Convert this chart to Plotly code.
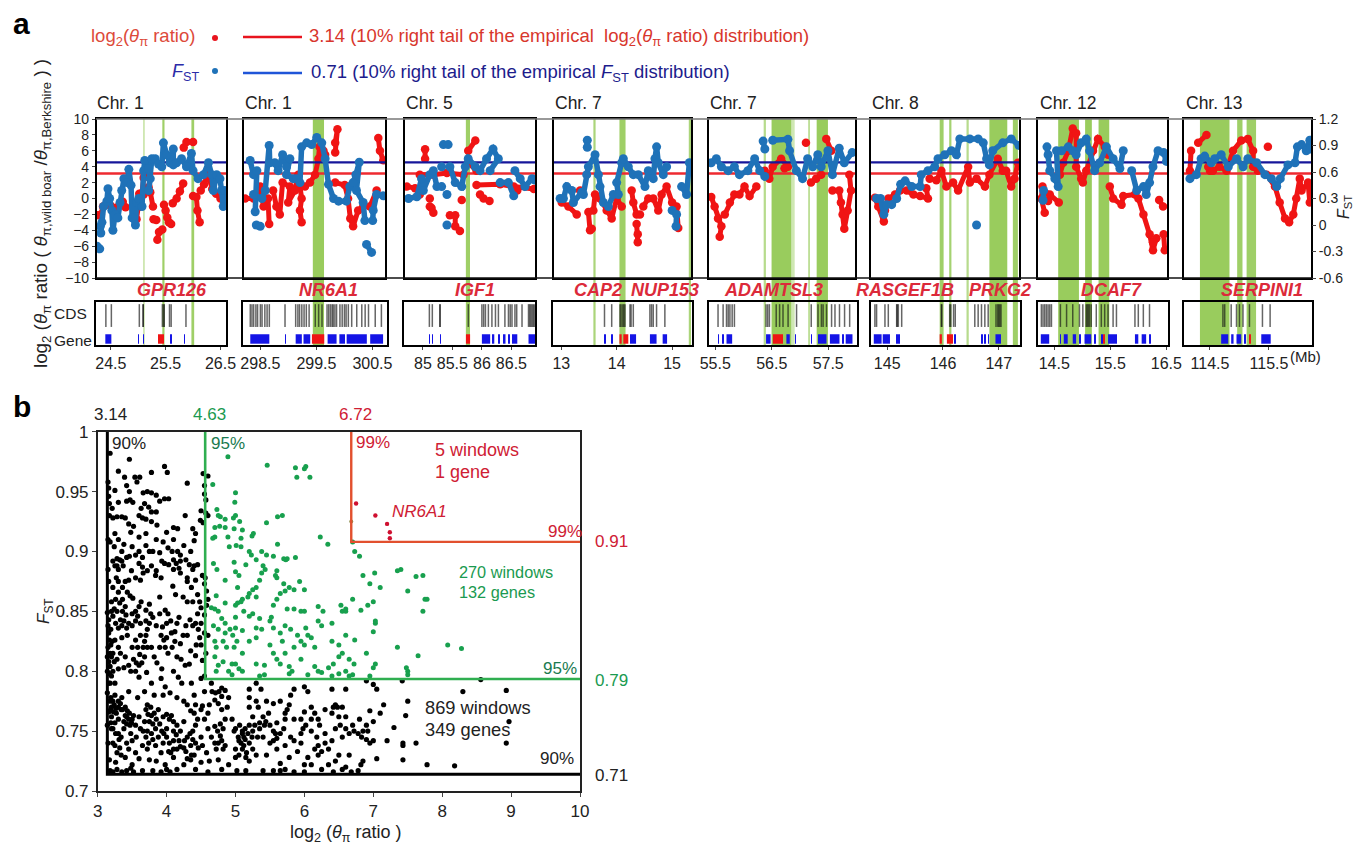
import plotly.graph_objects as go

FONT = "Liberation Sans"
W, H = 1360, 845
RED_THRESHOLD = 3.14
FST_THRESHOLD = 0.71
TOP_T, TOP_B = 119, 278
LOW_T, LOW_B = 302, 345

PANEL_PX = [(97, 226), (244, 385), (405, 535), (554, 691), (709, 855), (871, 1019), (1038, 1167), (1184, 1311)]
LOW_PX = [(96, 226), (243, 387), (404, 535), (553, 692), (709, 857), (871, 1020), (1038, 1168), (1184, 1312)]
RANGES = [(24.25, 26.6), (298.21, 300.73), (84.7, 86.9), (12.87, 15.34), (55.39, 57.98), (144.71, 147.36), (14.21, 16.51), (114.06, 116.21)]
LOW_RANGES = [(24.23, 26.6), (298.19, 300.76), (84.68, 86.9), (12.85, 15.36), (55.39, 58.01), (144.71, 147.38), (14.21, 16.53), (114.06, 116.23)]
TICKS = [[24.5, 25.5, 26.5], [298.5, 299.5, 300.5], [85, 85.5, 86, 86.5], [13, 14, 15], [55.5, 56.5, 57.5], [145, 146, 147], [14.5, 15.5, 16.5], [114.5, 115.5]]
CHR = ["Chr. 1", "Chr. 1", "Chr. 5", "Chr. 7", "Chr. 7", "Chr. 8", "Chr. 12", "Chr. 13"]
CHR_PX = [96, 244, 405, 554, 709, 871, 1039, 1185]
GENES = ["GPR126", "NR6A1", "IGF1", "CAP2", "NUP153", "ADAMTSL3", "RASGEF1B", "PRKG2", "DCAF7", "SERPINI1"]
GENES_PX = [172, 328, 475, 598, 665, 773, 905, 1000, 1111, 1262]

BANDS = [
    [(25.09, 25.12, .45), (25.44, 25.48, .8), (25.97, 26.02, .8)],
    [(299.44, 299.64, .85)],
    [(85.73, 85.8, .8)],
    [(13.58, 13.62, .7), (14.05, 14.16, .8), (15.30, 15.34, .7)],
    [(56.36, 56.40, .6), (56.5, 56.85, .85), (56.85, 56.91, .4), (57.15, 57.18, .6), (57.30, 57.50, .85)],
    [(145.94, 146.01, .8), (146.11, 146.15, .75), (146.42, 146.46, .6), (146.83, 147.15, .85), (147.25, 147.34, .8)],
    [(14.57, 14.94, .85), (15.05, 15.17, .85), (15.29, 15.48, .85)],
    [(114.33, 114.83, .85), (114.96, 115.05, .8), (115.12, 115.28, .8)],
]

CDS = [
    [24.41, 24.51, 25.02, 25.09, 25.09, 25.44, 25.47, 25.47, 25.57, 25.6, 25.87],
    [298.32, 298.35, 298.38, 298.42, 298.45, 298.5, 298.53, 298.58, 298.62, 298.66, 298.94, 299.13, 299.17, 299.2, 299.24, 299.28, 299.32, 299.37, 299.48, 299.54, 299.6, 299.69, 299.72, 299.75, 299.78, 299.8, 299.83, 299.86, 299.92, 299.96, 300.0, 300.03, 300.07, 300.13, 300.22, 300.31, 300.37, 300.43, 300.55, 300.66],
    [85.11, 85.16, 85.29, 85.29, 85.77, 86.0, 86.03, 86.06, 86.11, 86.17, 86.23, 86.28, 86.39, 86.45, 86.48, 86.51, 86.56, 86.59, 86.68, 86.79, 86.81, 86.83, 86.85, 86.87, 86.89],
    [13.78, 13.91, 14.06, 14.08, 14.11, 14.13, 14.15, 14.24, 14.26, 14.3, 14.6, 14.63, 14.66, 14.72, 14.87],
    [55.55, 55.64, 55.7, 55.73, 55.76, 55.8, 55.84, 56.4, 56.43, 56.46, 56.58, 56.64, 56.7, 56.79, 56.94, 57.2, 57.32, 57.38, 57.41, 57.47, 57.56, 57.62, 57.7, 57.79, 57.88],
    [144.78, 144.81, 144.96, 145.02, 145.17, 145.18, 145.2, 145.26, 145.97, 145.98, 146.12, 146.14, 146.19, 146.22, 146.57, 146.63, 146.69, 146.75, 146.81, 146.95, 146.98, 147.0, 147.02, 147.04],
    [14.27, 14.3, 14.33, 14.36, 14.39, 14.42, 14.45, 14.61, 14.72, 14.83, 14.95, 15.01, 15.07, 15.09, 15.11, 15.13, 15.16, 15.25, 15.34, 15.4, 15.46, 15.55, 15.61, 15.94, 16.0, 16.09, 16.2],
    [114.72, 114.75, 114.86, 114.95, 115.0, 115.06, 115.17, 115.39, 115.52],
]
GENE_BLOCKS = [
    [(24.40, 24.51), (25.0, 25.01), (25.09, 25.1), (25.84, 25.85), (25.58, 25.6)],
    [(298.32, 298.66), (298.94, 298.95), (299.13, 299.24), (299.27, 299.39), (299.70, 299.86), (299.91, 300.01), (300.04, 300.40), (300.46, 300.69)],
    [(85.11, 85.12), (85.16, 85.17), (85.29, 85.3), (86.0, 86.14), (86.18, 86.21), (86.28, 86.3), (86.37, 86.4), (86.45, 86.47), (86.51, 86.6), (86.79, 86.9)],
    [(13.78, 13.79), (13.91, 13.92), (14.24, 14.35), (14.6, 14.72), (14.83, 14.91)],
    [(55.55, 55.56), (55.63, 55.64), (55.7, 55.8), (56.40, 56.48), (56.76, 56.82), (56.92, 56.93), (57.2, 57.21), (57.32, 57.47), (57.53, 57.7), (57.75, 57.77), (57.81, 57.93)],
    [(144.76, 144.9), (144.92, 145.05), (145.17, 145.18), (145.21, 145.22), (146.21, 146.22), (146.69, 146.7), (146.75, 146.76), (146.81, 146.82), (146.94, 147.04)],
    [(14.26, 14.41), (14.61, 14.62), (14.67, 14.74), (14.83, 14.89), (14.95, 14.96), (15.04, 15.16), (15.22, 15.23), (15.34, 15.37), (15.46, 15.62), (15.94, 16.0), (16.06, 16.14), (16.2, 16.21)],
    [(114.69, 114.81), (114.86, 114.9), (114.95, 115.03), (115.09, 115.1), (115.37, 115.53)],
]
RED_BLOCKS = [
    [(25.36, 25.47)],
    [(299.42, 299.64)],
    [(85.73, 85.8)],
    [(14.05, 14.09), (14.12, 14.21)],
    [(56.52, 56.70)],
    [(145.94, 145.98), (146.07, 146.18)],
    [(15.38, 15.4)],
    [(115.17, 115.18)],
]

# Each series: windows in Mb with the measured value; None breaks a chain
P1_RED = [(24.27,-2.1),(24.32,-2.0),(24.36,-1.0),(24.42,-0.8),(24.5,-0.9),(24.55,-1.2),(24.6,-1.5),(24.65,-0.9),(24.72,-0.4),(24.77,-1.1),None,(24.93,-0.9),(24.97,-2.6),(25.0,-1.1),(25.02,0.6),(25.07,0.7),(25.1,2.6),(25.13,3.0),None,(25.1,0.5),(25.19,1.4),(25.22,0.8),(25.27,-1.0),None,(25.28,-2.6),(25.33,-2.7),None,(25.35,-5.2),(25.38,-4.2),(25.44,-3.9),None,(25.47,-0.8),(25.5,-1.5),(25.53,-2.4),(25.56,-3.0),(25.6,-3.2),None,(25.63,-0.6),(25.7,0),(25.76,0.9),(25.82,1.9),None,(25.83,6.4),(25.88,7.1),(26.0,7.1),None,(26.0,0.3),(26.06,0.2),(26.08,-1.5),(26.12,-3),None,(26.14,1),(26.2,1.8),(26.27,3.1),(26.35,1.2),(26.42,0.6),(26.5,0),(26.57,-0.3)]
P1_FST = [(24.25,-.24),(24.3,-.27),None,(24.31,-.015),(24.32,-.09),(24.34,.03),(24.37,.21),(24.43,.27),(24.45,.41),(24.48,.3),(24.52,.165),(24.54,-.06),(24.58,.12),(24.63,.08),(24.67,.255),(24.7,.39),(24.74,.525),(24.8,.48),(24.83,.63),(24.87,.45),(24.89,.08),(24.95,0),(24.97,.255),(25.01,.3),(25.07,.21),(25.1,.615),(25.12,.73),(25.19,.64),(25.22,.525),(25.19,.39),(25.25,.75),(25.31,.75),(25.37,.69),(25.43,.66),(25.46,.93),(25.52,.795),(25.58,.705),(25.64,.86),(25.64,.68),(25.7,.705),(25.79,.75),(25.88,.66),(25.97,.81),(26.0,.615),(26.09,.525),(26.19,.57),(26.28,.705),(26.34,.57),(26.37,.39),(26.43,.57),(26.49,.525),(26.52,.39),(26.55,.21),(26.58,.39)]
P2_RED = [(298.23,0),(298.38,0),(298.47,.5),(298.5,1.5),(298.56,-1),(298.64,0),(298.66,-3.2),None,(298.73,1),(298.79,-1),(298.85,-2),(298.9,2),(299.03,1.5),(299.0,-.5),(299.12,1),(299.18,3),(299.24,0),(299.21,-1.5),(299.24,-3),None,(299.3,1.5),(299.39,2),(299.48,3),(299.54,5),(299.56,6.5),(299.63,6),None,(299.66,5.5),None,(299.84,7),(299.88,8.7),(299.84,5.8),None,(299.84,2),(300.01,1.7),(300.07,0),(300.11,-2.5),(300.16,-3.5),(300.25,-1.5),(300.34,-1),(300.46,-1),(300.58,1),None,(300.61,7.6),(300.64,6),(300.7,4.8)]
P2_FST = [(298.32,.73),(298.38,.57),(298.44,.615),(298.41,.15),None,(298.43,0),(298.5,-.015),None,(298.38,.345),(298.53,.3),(298.59,.39),(298.66,.9),(298.67,.705),(298.76,.705),(298.82,.615),(298.9,.795),(298.97,.66),(299.03,.75),(298.97,.57),(299.09,.525),(299.15,.525),(299.21,.48),(299.24,.885),(299.33,.93),(299.42,.91),(299.51,.99),(299.6,.93),(299.66,.75),(299.72,.46),(299.81,.3),(299.9,.27),(300.04,.27),(300.1,.435),(300.16,.48),(300.21,.57),(300.27,.71),(300.22,.39),(300.34,.255),(300.37,.05),None,(300.4,-.22),(300.49,-.31),None,(300.51,.05),(300.52,.165),(300.58,.345),(300.7,.33)]
P3_RED = [(84.73,1.5),(84.87,1.3),(84.95,.5),None,(85.04,6.2),(85.04,5),None,(85.12,0),None,(85.12,-1),(85.15,-1.2),(85.18,-1.8),None,(84.95,3),(85.18,3),(85.41,3.2),(85.69,3),None,(85.46,-2.1),(85.55,-2.1),(85.55,-3.5),(85.63,-4.1),None,(85.66,-.2),None,(85.77,6),(85.89,7.3),None,(85.77,4.5),(85.91,3.5),None,(85.91,1.7),(86.31,1.8),(86.54,1.5),(86.88,1.2),None,(85.97,.5),(86.03,0),None,(86.13,-.3),None,(86.6,1)]
P3_FST = [(84.76,.3),(84.9,.32),(84.98,.525),(85.01,.39),(85.12,.57),(85.18,.615),(85.24,.435),(85.32,.435),None,(85.35,.91),(85.43,.91),None,(85.32,.66),None,(85.41,.345),None,(85.41,0),None,(85.46,.66),(85.55,.48),(85.66,.435),(85.72,.66),(85.77,.75),(85.89,.66),(85.97,.615),(86.08,.75),(86.19,.86),(86.28,.75),(86.14,.615),None,(86.31,.48),(86.45,.48),(86.54,.33),None,(86.56,.615),(86.65,.525),(86.73,.435),(86.85,.525),(86.9,.51)]
P4_RED = [(13.01,-.5),(13.13,-1),(13.28,-2),None,(13.34,1),None,(13.49,-1.7),(13.52,-4),(13.55,-3.8),None,(13.58,-1.5),(13.61,.5),(13.7,0),(13.82,-1.5),(13.91,-2.5),(14.0,0),(14.09,-1),None,(14.27,1),(14.3,-.5),(14.36,-2),(14.42,-2),None,(14.36,-3.2),(14.38,-4.5),(14.38,-5.5),None,(14.48,-1),(14.57,0),(14.66,0),(14.75,-1.5),(14.81,.5),(14.9,1.5),(15.0,-.5),(15.08,-1),(15.11,-3.7)]
P4_FST = [(12.98,.3),(13.04,.3),(13.1,.435),(13.19,.39),(13.22,.255),(13.37,.37),(13.4,.345),(13.46,.57),(13.49,.66),(13.61,.795),(13.67,.57),(13.7,.435),(13.76,.255),(13.85,.21),(13.94,.345),(14.03,.345),(14.0,.48),(14.09,.705),(14.12,.75),(14.21,.66),(14.3,.57),(14.39,.57),(14.51,.435),(14.57,.615),(14.66,.525),(14.69,.75),(14.72,.885),(14.75,.705),(14.84,.57),(14.9,.66),None,(15.0,.165),(15.08,.12),(15.07,-.015),None,(15.17,.435),(15.26,.345),(15.31,.705),None,(13.47,.96),(13.47,.88)]
P5_RED = [(55.43,.2),(55.49,-1),(55.55,-2.5),(55.61,-3.5),(55.58,-4.8),None,(55.67,-2),(55.76,-.5),(55.84,.5),(55.93,.5),(56.02,1.5),(56.11,.3),(56.23,1.5),None,(56.38,3.5),(56.46,2.5),(56.52,4),(56.67,5),(56.79,4),(56.73,3.8),None,(57.11,7),None,(57.2,2),(57.29,2.5),(57.38,3),None,(57.47,7.5),(57.56,6),None,(57.58,1),(57.7,1),(57.73,-.5),(57.76,-2),(57.79,-3.8),(57.85,-1.5),(57.91,1),(57.88,3)]
P5_FST = [(55.43,.705),(55.52,.75),(55.61,.66),(55.73,.615),(55.84,.66),(55.93,.57),(56.08,.615),(56.2,.75),(56.29,.615),(56.38,.55),None,(56.38,.86),(56.35,.95),None,(56.52,.96),(56.79,.97),(56.82,.84),(56.94,.615),(57.05,.525),(57.14,.75),(57.23,.66),(57.32,.795),(57.38,.66),(57.5,.84),(57.58,.57),(57.7,.87),(57.79,.705),(57.93,.82)]
P6_RED = [(144.78,.1),(144.84,-1),(144.94,-2.9),(144.96,-1.5),(145.02,0),(145.14,.5),(145.23,1),(145.35,1),(145.47,.5),(145.59,.3),(145.73,0),(145.7,1.3),None,(145.76,2.5),(145.88,2.3),(145.97,3.5),(146.06,1.5),(146.18,2),(146.27,1),(146.45,4),(146.48,2),(146.6,2.5),(146.75,1.5),(146.83,3),(146.98,5),(147.07,3.5),(147.13,3.5),(147.22,1.5),(147.28,2.5),(147.34,4.5)]
P6_FST = [(144.81,.3),(144.88,.3),(144.94,.12),(144.99,.23),(145.08,.23),(145.17,.3),(145.24,.46),(145.32,.5),(145.44,.435),(145.59,.435),(145.61,.57),(145.73,.615),(145.85,.66),(145.91,.75),(146.03,.795),(146.15,.84),(146.24,.795),(146.3,.975),(146.48,.975),(146.63,.975),(146.72,.93),(146.78,.75),(146.83,.68),(146.89,.84),(147.07,.93),(147.22,.975),(147.36,.9),None,(146.6,.0)]
P7_RED = [(14.29,1.5),(14.27,0),(14.33,-1.8),None,(14.39,-.3),(14.42,.5),(14.58,-.5),None,(14.6,3),(14.66,4.5),(14.75,6),(14.83,8.8),(14.89,8.2),(14.89,4),(14.98,2.5),(15.01,2),(15.07,3.5),(15.19,6),(15.28,7.5),(15.4,6.5),(15.46,5.5),None,(15.49,1.5),(15.55,0),(15.7,-.8),(15.73,.3),(15.94,.5),(16.0,0),(16.09,-2),(16.2,-4.5),(16.26,-6.5),(16.32,-5),(16.26,-5.5),None,(16.37,-.2),(16.44,-1),None,(16.45,-4.5),(16.47,-6.5)]
P7_FST = [(14.3,.28),(14.31,.39),None,(14.37,.885),(14.39,.795),(14.42,.615),(14.51,.525),(14.57,.435),(14.54,.84),(14.63,.84),(14.75,.885),(14.83,.84),(14.89,.795),(14.98,.93),(15.07,.975),(15.13,.84),(15.22,.615),(15.31,.705),(15.43,.885),(15.55,.75),(15.67,.64),(15.73,.84),None,(15.88,.615),(15.97,.39),(16.09,.435),(16.14,.345),(16.2,.48),(16.26,.66),(16.35,.84),(16.45,.82),(16.5,.72)]
P8_RED = [(114.16,3.5),(114.18,6),None,(114.3,7),(114.44,8),None,(114.47,4),(114.5,3.5),(114.55,3.5),(114.66,4),(114.78,3.5),(114.89,6),(115.03,7.3),(115.14,7.5),(115.23,6),(115.23,4),(115.31,3.5),None,(115.48,6.5),None,(115.46,3),(115.6,1.5),(115.68,-.5),(115.77,-2.5),(115.84,-3),(115.91,-2),(115.96,0),(116.02,2.5),(116.05,1),(116.16,2),(116.19,-.5),(116.2,1.5)]
P8_FST = [(114.16,.525),(114.27,.57),(114.35,.75),(114.41,.78),(114.52,.705),(114.58,.75),(114.69,.795),(114.81,.66),(114.95,.75),(115.06,.66),(115.14,.75),(115.29,.705),(115.43,.57),(115.54,.525),(115.63,.435),(115.69,.525),(115.82,.68),(115.94,.705),(115.98,.885),(116.05,.91),(116.13,.84),(116.19,.96),(116.2,.86)]
RATIOS = [P1_RED, P2_RED, P3_RED, P4_RED, P5_RED, P6_RED, P7_RED, P8_RED]
FSTS = [P1_FST, P2_FST, P3_FST, P4_FST, P5_FST, P6_FST, P7_FST, P8_FST]

# Panel b
BLACK = [
(3.18,.982),(3.46,.977),(3.3,.967),(3.39,.962),(3.54,.962),(3.61,.962),(3.78,.966),(3.97,.971),(4.01,.966),(3.15,.958),(3.16,.953),(3.25,.951),(3.42,.955),(3.46,.95),(3.57,.958),(3.66,.949),(3.72,.95),(3.78,.949),(3.85,.947),(3.9,.942),(3.97,.944),(4.03,.944),(4.3,.957),(4.53,.965),(4.6,.963),(4.55,.955),(4.55,.948),(4.57,.943),
(3.16,.946),(3.17,.94),(3.21,.936),(3.3,.941),(3.42,.942),(3.47,.943),(3.51,.941),(3.63,.936),(3.68,.94),(3.74,.937),(3.78,.933),(3.85,.933),(3.6,.93),(3.65,.928),(3.7,.927),(3.17,.93),(3.22,.928),(3.28,.929),(3.35,.929),(3.4,.928),(3.45,.923),(3.48,.916),(3.52,.921),(3.78,.925),(3.86,.922),(4.0,.916),(4.1,.92),(4.16,.919),(4.27,.93),(4.38,.919),(4.42,.915),(4.49,.926),(4.53,.924),(4.57,.932),(4.6,.93),(4.5,.934),(4.4,.909),
(3.15,.91),(3.18,.908),(3.24,.904),(3.35,.9),(3.46,.896),(3.55,.897),(3.8,.9),(3.9,.899),(4.02,.903),(4.08,.9),(4.16,.9),(4.2,.897),(3.28,.894),(3.32,.893),(3.22,.892),(3.25,.888),(3.28,.888),(3.37,.888),(3.49,.884),(3.6,.89),(3.65,.887),(3.78,.888),(3.85,.884),(3.93,.892),(3.97,.89),(4.03,.889),(4.1,.885),(4.2,.892),(4.28,.893),(4.33,.889),(4.4,.888),(4.45,.889),(4.38,.885),(4.52,.88),(4.56,.878),(4.2,.882),(4.3,.878),
(3.15,.885),(3.16,.875),(3.27,.878),(3.3,.875),(3.45,.876),(3.55,.878),(3.62,.876),(3.66,.882),(3.72,.884),(3.84,.88),(3.92,.878),(4.09,.871),(4.13,.864),(4.3,.875),(4.36,.87),(4.42,.876),(4.55,.873),(4.58,.867),
(3.22,.87),(3.3,.866),(3.43,.866),(3.47,.863),(3.51,.861),(3.26,.86),(3.32,.857),(3.36,.86),(3.4,.854),(3.2,.858),(3.24,.852),(3.36,.85),(3.41,.847),(3.5,.848),(3.6,.854),(3.63,.858),(3.7,.851),(3.75,.856),(3.77,.848),(3.9,.862),(4.15,.84),(4.18,.845),(4.5,.853),(4.48,.858),(4.58,.855),(4.6,.86),(4.45,.848),(4.55,.847),
(3.14,.849),(3.16,.843),(3.15,.838),(3.19,.835),(3.45,.84),(3.5,.838),(3.55,.842),(3.62,.84),(3.75,.84),(3.85,.838),(3.94,.837),(4.0,.84),(4.07,.832),(4.12,.833),(4.3,.83),(4.46,.835),(4.55,.832),(4.6,.83),
(3.16,.832),(3.17,.826),(3.19,.822),(3.21,.825),(3.22,.815),(3.15,.82),(3.18,.815),(3.2,.812),(3.14,.812),(3.25,.826),(3.3,.82),(3.35,.828),(3.43,.83),(3.5,.82),(3.55,.826),(3.58,.82),(3.62,.83),(3.68,.812),(3.72,.82),(3.64,.807),(3.61,.814),(3.78,.82),(3.82,.812),(3.86,.807),(3.93,.802),(4.2,.823),(4.35,.817),(4.43,.822),(4.42,.813),(4.52,.809),(4.57,.815),(4.33,.806),(4.15,.812),(4.21,.81),(4.27,.805),
(3.14,.8),(3.18,.79),(3.25,.79),(3.3,.802),(3.38,.803),(3.48,.8),(3.55,.8),(3.6,.795),(3.71,.799),(3.78,.79),(3.92,.794),(3.98,.787),(4.1,.8),(4.17,.795),(4.22,.79),(4.36,.79),(4.5,.794),(4.55,.796),(4.65,.79),(4.71,.782),(4.8,.786),(4.85,.784),(5.3,.79),
(3.14,.782),(3.18,.775),(3.25,.78),(3.2,.77),(3.3,.775),(3.35,.778),(3.45,.783),(3.58,.778),(3.68,.783),(3.72,.772),(3.82,.78),(3.95,.78),(4.05,.782),(4.15,.778),(4.25,.775),(4.3,.772),(4.4,.78),(4.42,.772),(4.52,.771),(4.62,.772),(4.7,.776),(4.75,.773),(4.8,.768),(4.88,.77),(5.2,.785),(5.37,.785),(5.45,.775),(5.55,.773),(5.65,.775),(5.8,.78),(5.85,.785),(6.0,.787),(6.05,.783),(6.4,.785),(6.6,.785),(6.9,.792),(7.0,.789),(7.05,.785),(7.42,.792),(7.5,.775),(8.3,.783),(8.93,.784),(8.56,.793),
(3.16,.766),(3.2,.762),(3.27,.765),(3.34,.768),(3.42,.762),(3.5,.76),(3.55,.755),(3.6,.762),(3.68,.758),(3.78,.763),(3.85,.76),(3.95,.762),(4.0,.752),(4.1,.758),(4.15,.755),(4.25,.758),(4.38,.75),(4.42,.755),(4.55,.76),(4.85,.76),(4.95,.76),(5.2,.77),(5.25,.762),(5.48,.765),(5.6,.757),(5.72,.76),(5.85,.76),(6.0,.766),(6.1,.76),(6.22,.755),(6.3,.768),(6.45,.772),(6.55,.77),(6.5,.762),(6.6,.762),(6.7,.755),(6.8,.76),(6.95,.767),(7.0,.758),(7.1,.765),(7.15,.772),(7.47,.763),(8.97,.758),
(3.14,.755),(3.2,.752),(3.3,.748),(3.38,.752),(3.48,.748),(3.56,.745),(3.62,.752),(3.72,.75),(3.78,.748),(3.88,.745),(3.96,.748),(4.1,.742),(4.2,.75),(4.3,.745),(4.35,.738),(4.5,.745),(4.6,.752),(4.65,.745),(4.8,.742),(4.98,.75),(5.1,.75),(5.25,.75),(5.35,.752),(5.4,.745),(5.55,.742),(5.7,.752),(5.8,.745),(5.95,.748),(6.1,.75),(6.18,.745),(6.3,.748),(6.45,.752),(6.55,.745),(6.72,.75),(6.78,.748),(6.85,.75),(6.83,.745),(6.9,.743),(7.0,.742),(7.3,.753),(7.2,.742),(7.43,.738),
(3.15,.74),(3.25,.738),(3.32,.736),(3.45,.735),(3.55,.732),(3.65,.738),(3.72,.735),(3.84,.738),(3.92,.732),(4.03,.733),(4.15,.735),(4.25,.736),(4.4,.73),(4.52,.738),(4.58,.732),(4.72,.735),(4.85,.738),(5.05,.742),(5.12,.738),(5.2,.74),(5.25,.735),(5.32,.745),(5.45,.73),(5.6,.735),(5.72,.738),(5.9,.733),(6.05,.728),(6.2,.738),(6.35,.735),(6.5,.73),(6.65,.73),(6.85,.725),(6.95,.74),(7.43,.74),(7.62,.74),(8.93,.74),
(3.17,.726),(3.26,.724),(3.4,.728),(3.5,.722),(3.6,.727),(3.75,.726),(3.85,.725),(3.98,.722),(4.1,.728),(4.25,.722),(4.35,.726),(4.5,.724),(4.62,.725),(4.75,.726),(4.9,.722),(5.0,.728),(5.15,.728),(5.2,.725),(5.3,.73),(5.65,.723),(5.78,.728),(6.0,.722),(6.1,.722),(6.35,.722),(6.45,.725),(6.6,.72),(6.82,.722),(7.05,.727),(7.43,.726),(7.78,.722),(8.18,.721),
(3.18,.717),(3.22,.716),(3.28,.718),(3.35,.716),(3.42,.717),(3.48,.719),(3.52,.716),(3.65,.717),(3.8,.717),(3.92,.716),(4.0,.718),(4.05,.716),(4.15,.718),(4.42,.718),(4.6,.716),(4.8,.718),(5.02,.717),(5.15,.717),(5.4,.717),(5.55,.717),(5.65,.717),(5.72,.718),(5.85,.716),(6.0,.716),(6.25,.718),(6.42,.716),(6.55,.718),(6.68,.716),(6.78,.717),
]
BLACK_DENSE = [
(3.19,.778),(3.22,.775),(3.24,.772),(3.19,.768),(3.23,.766),(3.27,.769),(3.3,.77),(3.33,.773),(3.36,.768),(3.4,.77),(3.43,.767),(3.46,.765),(3.4,.763),(3.45,.76),(3.49,.757),(3.52,.763),(3.47,.755),(3.42,.756),(3.38,.758),(3.3,.76),(3.25,.757),(3.19,.757),(3.22,.752),(3.26,.748),(3.31,.743),(3.34,.745),(3.22,.74),(3.28,.732),(3.34,.73),(3.42,.74),(3.5,.742),
(3.7,.768),(3.73,.764),(3.77,.77),(3.82,.765),(3.88,.768),(3.75,.758),(3.8,.756),(3.84,.752),(3.9,.756),(3.93,.75),(4.0,.764),(4.04,.76),(4.07,.763),(3.7,.745),(3.74,.74),(3.8,.743),(3.66,.75),(3.95,.74),(4.0,.745),(4.04,.74),(4.1,.75),(4.14,.747),(4.18,.742),(4.2,.737),(4.26,.742),(4.28,.733),(4.34,.748),(4.38,.743),(4.42,.74),(4.46,.736),(4.1,.735),(4.06,.732),(4.3,.727),(4.36,.73),
(4.7,.754),(4.74,.75),(4.78,.756),(4.82,.752),(4.78,.746),(4.7,.74),(4.75,.74),(4.82,.735),(5.0,.752),(5.06,.755),(5.1,.748),(5.14,.752),(5.04,.745),(5.08,.74),(5.14,.743),(5.1,.735),(5.16,.732),(5.12,.745),(5.2,.755),(5.24,.745),(5.18,.748),(5.0,.735),(5.05,.73),
(4.35,.767),(4.4,.765),(4.5,.768),(4.45,.76),(4.6,.765),(4.76,.783),(4.8,.779),(4.66,.783),(4.9,.778),(4.55,.783),(5.55,.75),(5.58,.748),(5.6,.744),(5.5,.74),(5.65,.748),(5.85,.742),(5.95,.74),(6.15,.735),(6.2,.73),(6.4,.742),(6.3,.74),(6.25,.733),
(5.2,.778),(5.3,.775),(5.33,.77),(5.4,.762),(5.44,.758),(5.28,.755),(5.35,.757),(5.42,.755),(5.5,.755),(5.75,.768),(5.78,.772),(5.72,.765),(5.95,.76),(5.98,.752),(6.02,.755),(6.1,.77),(6.15,.765),(6.2,.76),(6.4,.765),(6.42,.77),(6.48,.77),(6.52,.755),(6.6,.752),(6.65,.748),(6.9,.755),(6.92,.75),
(3.16,.808),(3.18,.804),(3.17,.798),(3.2,.796),(3.22,.8),(3.16,.79),(3.24,.808),(3.28,.81),(3.33,.815),(3.4,.812),(3.45,.805),(3.52,.81),(3.56,.807),(3.6,.805),(3.66,.82),(3.68,.825),(3.7,.83),(3.72,.835),(3.9,.82),(3.92,.83),(3.96,.826),(3.98,.82),(4.0,.828),(4.02,.815),(4.08,.82),(4.12,.825),(4.5,.822),(4.48,.828),(4.24,.83),(4.28,.838),(4.34,.843),(4.38,.838),(4.5,.84),(4.42,.84),
(3.2,.85),(3.22,.846),(3.26,.84),(3.3,.836),(3.35,.838),(3.38,.842),(3.42,.836),(3.28,.85),(3.33,.843),(3.55,.85),(3.58,.846),(3.7,.842),(3.8,.845),(3.9,.848),(3.98,.851),(4.02,.848),(4.06,.842),(4.24,.862),(4.3,.858),(4.38,.858),(4.45,.864),
(3.36,.87),(3.4,.875),(3.3,.885),(3.35,.892),(3.42,.895),(3.6,.9),(3.65,.895),(3.7,.905),(3.75,.9),(4.1,.893),(4.14,.89),(4.18,.886),(3.25,.915),(3.3,.91),(3.38,.906),(3.5,.904),(3.6,.912),(3.7,.915),(3.85,.91),(3.95,.908),(4.1,.91),(4.25,.905),(4.35,.9),
]
GREEN = [
(4.89,.979),(5.46,.972),(5.87,.97),(5.89,.962),(6.0,.969),(6.02,.971),(6.08,.962),(4.67,.956),(5.0,.949),(4.99,.941),(4.73,.935),(4.75,.93),(4.78,.929),(4.85,.927),(4.97,.928),(5.0,.93),(5.06,.925),(5.45,.924),(5.61,.929),(5.68,.93),(4.7,.92),(4.77,.921),(4.85,.92),(4.98,.919),(5.1,.918),(4.67,.911),(4.7,.912),(4.89,.912),(5.08,.911),(5.24,.913),(5.26,.915),(5.01,.905),(5.08,.904),(4.91,.904),(5.61,.906),(6.23,.912),(6.34,.906),
(5.2,.9),(5.23,.897),(5.3,.893),(5.38,.9),(5.45,.897),(5.55,.896),(5.7,.894),(5.73,.893),(5.75,.894),(5.87,.895),(4.68,.89),(4.98,.891),(5.15,.889),(5.4,.888),(5.43,.885),(4.73,.885),(5.0,.883),(5.05,.88),(5.6,.884),(5.58,.88),(5.38,.882),(4.85,.876),(5.35,.876),(5.3,.87),(5.03,.87),(5.6,.878),(5.7,.873),(5.78,.87),(5.93,.875),(5.2,.865),(5.25,.868),(5.18,.862),(5.1,.86),(5.3,.862),(5.65,.865),(5.72,.867),(5.85,.868),(6.0,.868),(4.72,.863),(4.85,.857),(5.0,.855),(5.03,.857),(5.08,.858),(5.55,.855),(5.6,.86),(5.75,.852),(5.85,.852),(5.95,.85),(6.0,.85),(6.2,.854),(6.27,.85),
(4.65,.853),(4.7,.852),(4.75,.85),(4.8,.844),(4.85,.84),(5.0,.845),(5.12,.85),(5.2,.846),(5.25,.848),(5.35,.844),(5.5,.842),(5.52,.845),(6.2,.842),(6.25,.838),(6.4,.84),(6.53,.855),(6.6,.852),(6.7,.86),
(4.68,.838),(4.75,.835),(4.85,.832),(4.92,.835),(4.96,.83),(5.0,.836),(5.1,.834),(5.3,.836),(5.38,.835),(5.55,.836),(5.65,.832),(5.72,.838),(5.8,.835),(5.9,.83),(6.02,.836),(6.05,.83),(6.1,.828),(6.4,.825),(6.5,.822),(6.6,.83),(6.73,.826),(7.0,.833),(7.03,.84),
(4.7,.825),(4.72,.82),(4.82,.825),(4.87,.82),(4.98,.82),(5.02,.825),(5.1,.815),(5.2,.825),(5.3,.828),(5.5,.822),(5.55,.815),(5.68,.825),(5.72,.815),(5.85,.82),(5.95,.825),(6.0,.822),(6.15,.82),(6.5,.812),(6.55,.815),(6.65,.81),(7.35,.82),(7.48,.803),(8.08,.822),(8.28,.819),(7.65,.813),(7.03,.842),(6.82,.851),
(4.7,.812),(4.75,.805),(4.82,.808),(4.95,.806),(5.0,.806),(5.05,.802),(5.3,.806),(5.42,.805),(5.6,.81),(5.65,.806),(5.78,.804),(5.82,.8),(5.95,.81),(6.15,.804),(6.2,.8),(6.35,.803),(6.42,.806),(6.72,.806),(6.9,.815),(7.03,.806),(7.5,.797),(7.5,.8),(7.0,.803),(6.6,.8),(6.7,.797),(6.5,.798),
(4.72,.8),(4.9,.8),(4.95,.797),(5.1,.8),(5.35,.796),(5.42,.797),(5.78,.798),(6.05,.797),(6.25,.799),(6.4,.796),(6.65,.796),(6.95,.796),
(6.85,.88),(7.02,.882),(7.4,.885),(7.62,.879),(7.72,.88),(7.78,.86),(7.72,.85),(7.1,.87),(7.0,.858),(6.92,.855),(6.7,.908),(6.73,.9),(6.8,.896),(6.55,.85),(6.6,.85),
(7.35,.884),(7.75,.86),(6.95,.873),(7.5,.867),
]
RED_PTS = [(6.75,.94),(7.03,.93),(7.2,.923),(7.24,.916),(7.24,.911)]
OLIVE_PTS = [(6.68,.925)]
THRESH_X = [3.14, 4.56, 6.68]
THRESH_Y = [.714, .7935, .908]
THRESH_TOP = [1.024, 1.02, 1.02]
THRESH_RIGHT = 10.23

def px_x(v): return v / W
def px_y(v): return 1 - v / H

fig = go.Figure()
layout = dict(template="none", width=W, height=H, margin=dict(l=0, r=0, t=0, b=0, pad=0), autosize=False, paper_bgcolor="white",
              plot_bgcolor="rgba(0,0,0,0)", showlegend=False, barmode="overlay", font=dict(family=FONT, color="#222"))
shapes = []
annotations = []

def ann(x, y, text, size=15, color="#222", anchor="left", angle=0, **kw):
    annotations.append(dict(x=px_x(x), y=px_y(y), xref="paper", yref="paper", text=text, showarrow=False,
                            font=dict(family=FONT, size=size, color=color), xanchor=anchor, yanchor="middle",
                            xshift=0, yshift=0, textangle=angle, borderpad=0, **kw))

def xy(points):
    xs, ys = [], []
    for p in points:
        xs.append(None if p is None else p[0])
        ys.append(None if p is None else p[1])
    return xs, ys

for i in range(8):
    n = i + 1
    l, r = PANEL_PX[i]
    ll, lr = LOW_PX[i]
    layout[f"xaxis{n}"] = dict(domain=[px_x(l), px_x(r)], range=RANGES[i], anchor=f"y{n}", showgrid=False, zeroline=False, automargin=False,
                               showline=True, mirror=True, linewidth=2.2, linecolor="black", ticks="", showticklabels=False)
    layout[f"yaxis{n}"] = dict(domain=[px_y(TOP_B), px_y(TOP_T)], range=[-10, 10], anchor=f"x{n}", showgrid=False, zeroline=False, automargin=False,
                               showline=True, mirror=True, linewidth=2.2, linecolor="black",
                               ticks="outside" if i == 0 else "", ticklen=3, tickwidth=1, showticklabels=i == 0,
                               tickvals=list(range(-10, 11, 2)), tickfont=dict(size=14, family=FONT, color="#222"))
    layout[f"yaxis{n+10}"] = dict(domain=[px_y(TOP_B), px_y(TOP_T)], range=[-0.6, 1.2], anchor=f"x{n}", overlaying=f"y{n}", side="right", automargin=False,
                                  showgrid=False, zeroline=False, showline=False, ticks="outside" if i == 7 else "", ticklen=4,
                                  showticklabels=i == 7, tickvals=[-.6, -.3, 0, .3, .6, .9, 1.2],
                                  ticktext=["-0.6", "-0.3", "0", "0.3", "0.6", "0.9", "1.2"],
                                  tickfont=dict(size=14, family=FONT, color="#222"))
    layout[f"xaxis{n+20}"] = dict(domain=[px_x(ll), px_x(lr)], range=LOW_RANGES[i], anchor=f"y{n+20}", showgrid=False, zeroline=False, automargin=False,
                                  showline=True, mirror=True, linewidth=2.2, linecolor="black", ticks="outside", ticklen=3,
                                  tickvals=TICKS[i], ticktext=[str(t) for t in TICKS[i]], tickfont=dict(size=16, family=FONT, color="#222"))
    layout[f"yaxis{n+20}"] = dict(domain=[px_y(LOW_B), px_y(LOW_T)], range=[0, 1], anchor=f"x{n+20}", showgrid=False, zeroline=False, automargin=False,
                                  showline=True, mirror=True, linewidth=2.2, linecolor="black", ticks="", showticklabels=False)
    for lo, hi, alpha in BANDS[i]:
        f = (RANGES[i][1] - RANGES[i][0]) / (r - l)
        shapes.append(dict(type="rect", xref="paper", yref="paper", x0=px_x(l + (lo - RANGES[i][0]) / f), x1=px_x(l + (hi - RANGES[i][0]) / f),
                           y0=px_y(345), y1=px_y(119), layer="below", fillcolor=f"rgba(135,195,65,{alpha})", line=dict(width=0)))
    rng = RANGES[i]
    fig.add_trace(go.Scatter(x=list(rng), y=[RED_THRESHOLD] * 2, xaxis=f"x{n}", yaxis=f"y{n}", mode="lines",
                             line=dict(color="#ee2a30", width=2.5)))
    rx, ry = xy(RATIOS[i])
    fig.add_trace(go.Scatter(x=rx, y=ry, xaxis=f"x{n}", yaxis=f"y{n}", mode="lines+markers",
                             line=dict(color="#f01414", width=5), marker=dict(color="#f01414", size=8.5)))
    fig.add_trace(go.Scatter(x=list(rng), y=[FST_THRESHOLD] * 2, xaxis=f"x{n}", yaxis=f"y{n+10}", mode="lines",
                             line=dict(color="#16169a", width=2.2)))
    bx, by = xy(FSTS[i])
    fig.add_trace(go.Scatter(x=bx, y=by, xaxis=f"x{n}", yaxis=f"y{n+10}", mode="lines+markers",
                             line=dict(color="#1f72b8", width=5.5), marker=dict(color="#1f72b8", size=9)))
    cx, cy = [], []
    for c in CDS[i]:
        cx += [c, c, None]
        cy += [.42, .95, None]
    fig.add_trace(go.Scatter(x=cx, y=cy, xaxis=f"x{n+20}", yaxis=f"y{n+20}", mode="lines",
                             line=dict(color="rgba(20,20,20,.65)", width=1.5)))
    for blocks, col in ((GENE_BLOCKS[i], "#1414e6"), (RED_BLOCKS[i], "#f01414")):
        fig.add_trace(go.Bar(x=[(a + b) / 2 for a, b in blocks], width=[b - a for a, b in blocks], y=[.22] * len(blocks), base=[.03] * len(blocks),
                             xaxis=f"x{n+20}", yaxis=f"y{n+20}", marker=dict(color=col, line=dict(width=0))))
    ann(CHR_PX[i], 103, CHR[i], 17.5)

shapes.append(dict(type="line", xref="paper", yref="paper", x0=px_x(96), x1=px_x(1312), y0=px_y(119), y1=px_y(119), line=dict(color="#777", width=1.3)))
shapes.append(dict(type="line", xref="paper", yref="paper", x0=px_x(96), x1=px_x(1312), y0=px_y(278), y1=px_y(278), line=dict(color="#111", width=1.6)))

for g, p in zip(GENES, GENES_PX):
    ann(p, 290, f"<b><i>{g}</i></b>", 18, "#dc2a3a", "center")

ann(12, 24, "<b>a</b>", 30, "black")
ann(12, 407, "<b>b</b>", 30, "black")
T = "<i>θ</i><sub>π</sub>"
ann(90, 37, f"log<sub>2</sub>({T} ratio)", 18.5, "#dd4a3a")
shapes.append(dict(type="circle", xref="paper", yref="paper", x0=px_x(212), x1=px_x(218), y0=px_y(41), y1=px_y(35), fillcolor="#e8141e", line=dict(width=0)))
shapes.append(dict(type="line", xref="paper", yref="paper", x0=px_x(243), x1=px_x(302), y0=px_y(37), y1=px_y(37), line=dict(color="#e8141e", width=2.5)))
ann(308, 37, f"3.14 (10% right tail of the empirical  log<sub>2</sub>({T} ratio) distribution)", 18.5, "#d8362c")
ann(171, 73, "<i>F</i><sub>ST</sub>", 18, "#2b2ba8")
shapes.append(dict(type="circle", xref="paper", yref="paper", x0=px_x(212), x1=px_x(218), y0=px_y(74), y1=px_y(68), fillcolor="#1f72b8", line=dict(width=0)))
shapes.append(dict(type="line", xref="paper", yref="paper", x0=px_x(243), x1=px_x(302), y0=px_y(73), y1=px_y(73), line=dict(color="#1f55d8", width=2.5)))
ann(310, 73, "0.71 (10% right tail of the empirical <i>F</i><sub>ST</sub> distribution)", 18.5, "#1c1c8c")
ann(42, 214, f"log<sub>2</sub> ({T} ratio ( <i>θ</i><sub>π,wild boar</sub> /<i>θ</i><sub>π,Berkshire</sub> ) )", 18.8, "#222", "center", -90)
ann(1344, 207, "<i>F</i><sub>ST</sub>", 16, "#222", "center", -90)
ann(70, 313, "CDS", 15.5, "#222", "center")
ann(73, 340, "Gene", 15.5, "#222", "center")
ann(1289, 356, "(Mb)", 15, "#222")

# Panel b
layout["xaxis40"] = dict(domain=[px_x(97.7), px_x(580)], range=[3, 10], anchor="y40", showgrid=False, zeroline=False, showline=True, mirror=True, automargin=False,
                         linewidth=1.5, linecolor="#222", ticks="outside", ticklen=4, dtick=1, tickfont=dict(size=17, family=FONT, color="#222"))
layout["yaxis40"] = dict(domain=[px_y(791), px_y(431.7)], range=[.7, 1], anchor="x40", showgrid=False, zeroline=False, showline=True, mirror=True, automargin=False,
                         linewidth=1.5, linecolor="#222", ticks="outside", ticklen=4, tickvals=[.7, .75, .8, .85, .9, .95, 1],
                         ticktext=["0.7", "0.75", "0.8", "0.85", "0.9", "0.95", "1"], tickfont=dict(size=17, family=FONT, color="#222"))
for pts, col, sz in ((BLACK + BLACK_DENSE, "black", 5.2), (GREEN, "#18a04e", 5), (RED_PTS, "#cf1030", 4.4), (OLIVE_PTS, "#8f8f50", 4)):
    sx, sy = xy(pts)
    fig.add_trace(go.Scatter(x=sx, y=sy, xaxis="x40", yaxis="y40", mode="markers", marker=dict(color=col, size=sz)))
LINE_COLS = ["black", "#2fae50", "#e2502e"]
LINE_W = [3, 2.6, 2.4]
for k in range(3):
    fig.add_trace(go.Scatter(x=[THRESH_X[k], THRESH_X[k], THRESH_RIGHT], y=[THRESH_TOP[k], THRESH_Y[k], THRESH_Y[k]], xaxis="x40", yaxis="y40",
                             mode="lines", cliponaxis=False, line=dict(color=LINE_COLS[k], width=LINE_W[k])))

BLK, GRN, RD = "#222", "#1a9a50", "#cf2034"
ann(110, 414, "3.14", 17, BLK, "center")
ann(209, 414, "4.63", 17, GRN, "center")
ann(355, 414, "6.72", 17, RD, "center")
ann(111, 444, "90%", 17, BLK)
ann(210, 444, "95%", 17, "#1a7a50")
ann(355, 442, "99%", 17, RD)
ann(434, 450, "5 windows", 18, RD)
ann(434, 472, "1 gene", 18, RD)
ann(391, 511, "<i>NR6A1</i>", 17, RD)
ann(547, 531, "99%", 17, RD)
ann(594, 541, "0.91", 17, RD)
ann(458, 572, "270 windows", 16.3, GRN)
ann(458, 592, "132 genes", 16.3, GRN)
ann(542, 668, "95%", 17, "#1a7a50")
ann(594, 680, "0.79", 17, GRN)
ann(424, 707, "869 windows", 18.3, BLK)
ann(424, 729, "349 genes", 18.3, BLK)
ann(539, 758, "90%", 17, BLK)
ann(594, 775, "0.71", 17, BLK)
ann(45, 611, "<i>F</i><sub>ST</sub>", 17, BLK, "center", -90)
ann(346, 833, f"log<sub>2</sub> ({T} ratio )", 18, BLK, "center")

layout["shapes"] = shapes
layout["annotations"] = annotations
fig.update_layout(**layout)
fig.write_html("out.html", config={"displayModeBar": False}, post_script="document.body.style.margin='0';document.documentElement.style.overflow='hidden';window.dispatchEvent(new Event('resize'));")
